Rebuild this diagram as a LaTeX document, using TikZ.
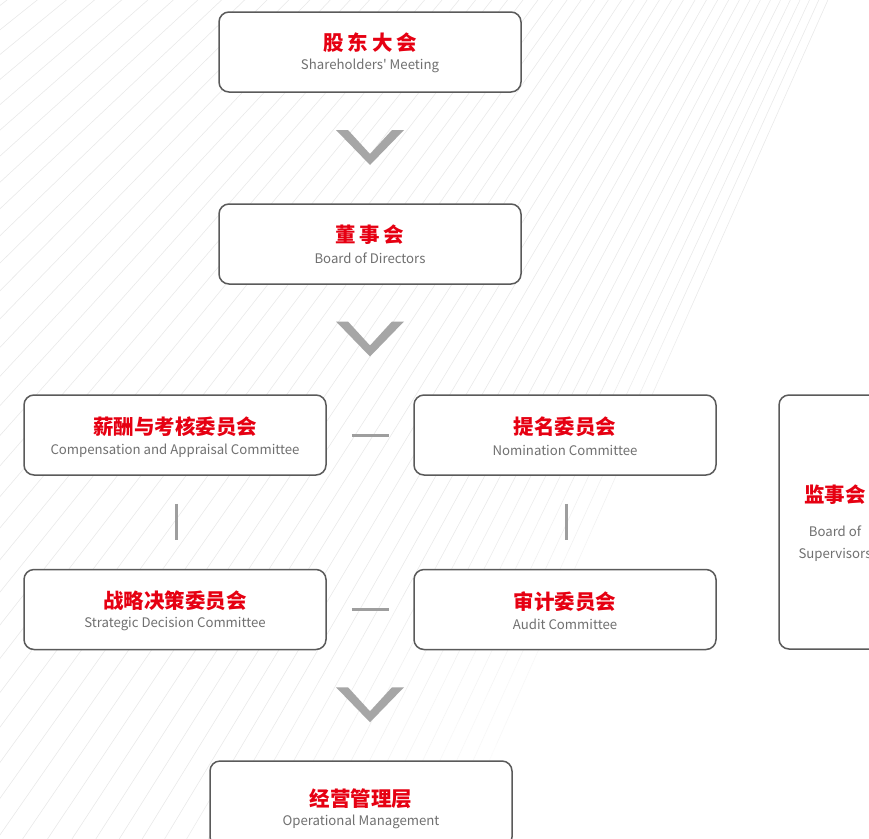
\documentclass[tikz,border=0pt]{standalone}
\usepackage{fontspec}
\setmainfont{Noto Sans CJK SC}
\usetikzlibrary{calc}
\definecolor{tred}{HTML}{E60012}
\definecolor{tgray}{HTML}{707070}
\definecolor{bord}{HTML}{5A5A5A}
\definecolor{dashc}{HTML}{9E9E9E}
\definecolor{chev}{HTML}{A6A6A6}
\tikzset{
  box/.style={draw=bord, line width=1.5pt, rounded corners=10pt, fill=white,
    minimum width=302pt, minimum height=80pt, inner sep=0pt},
  cn/.style={text=tred, font=\fontsize{20.5}{22}\selectfont\bfseries, inner sep=0pt},
  en/.style={text=tgray, font=\fontsize{13.2}{15}\selectfont, inner sep=0pt},
  link/.style={draw=dashc, line width=3pt},
  chevfill/.style={fill=chev},
  bgline/.style={line width=0.55pt},
  chevron/.pic={\fill[chevfill] (-34,-18) -- (0,17) -- (34,-18) -- (22,-18) -- (0,6) -- (-22,-18) -- cycle;}
}
\begin{document}
\begin{tikzpicture}[x=1pt,y=-1pt]
\useasboundingbox (0,0) rectangle (869,838);
\clip (0,0) rectangle (869,838);
\fill[white] (0,0) rectangle (869,838);
% background fan of faint lines
\foreach \lv/\lo/\hi in {9/-5000/1000, 7.5/1000/1060, 6/1060/1120, 4.5/1120/1180, 3/1180/1240, 1.5/1240/1300}{
  \begin{scope}
    \clip (\lo+1000,-1000) -- (\lo-2000,2000) -- (\hi-2000,2000) -- (\hi+1000,-1000) -- cycle;
    \foreach \k in {0,...,50}{
      \pgfmathsetmacro{\t}{114+0.44*\k+0.0024*\k*\k}
      \draw[bgline, draw=black!\lv] (1266,-984) -- ({1266+3200*cos(\t)},{-984+3200*sin(\t)});
    }
  \end{scope}
}
% boxes
\node[box] (b1) at (370,52) {};
\node[box] (b2) at (370,244) {};
\node[box] (b3) at (175,435) {};
\node[box] (b4) at (565,435) {};
\node[box] (b5) at (175,609.5) {};
\node[box] (b6) at (565,609.5) {};
\node[box, minimum width=112pt, minimum height=254pt] (b7) at (835,522) {};
\node[box, minimum height=86pt] (b8) at (361,804) {};
% texts
\node[cn] (t1) at ($(b1.north)+(0,31)$) {股\hspace{4pt}东\hspace{4pt}大\hspace{4pt}会};
\node[en] (e1) at ($(b1.north)+(0,55)$) {Shareholders\textquotesingle{} Meeting};
\node[cn] (t2) at ($(b2.north)+(0,31)$) {董\hspace{3.5pt}事\hspace{3.5pt}会};
\node[en] (e2) at ($(b2.north)+(0,55)$) {Board of Directors};
\node[cn] (t3) at ($(b3.north)+(0,32.5)$) {薪酬与考核委员会};
\node[en] (e3) at ($(b3.north)+(0,56.5)$) {Compensation and Appraisal Committee};
\node[cn] (t4) at ($(b4.north)+(0,32.5)$) {提名委员会};
\node[en] (e4) at ($(b4.north)+(0,56.5)$) {Nomination Committee};
\node[cn] (t5) at ($(b5.north)+(0,31.5)$) {战略决策委员会};
\node[en] (e5) at ($(b5.north)+(0,55)$) {Strategic Decision Committee};
\node[cn] (t6) at ($(b6.north)+(0,32.5)$) {审计委员会};
\node[en] (e6) at ($(b6.north)+(0,56)$) {Audit Committee};
\node[cn] (t7) at ($(b7.center)+(0,-27.5)$) {监事会};
\node[en] (e7a) at ($(b7.center)+(0,9.5)$) {Board of};
\node[en] (e7b) at ($(b7.center)+(0,32.5)$) {Supervisors};
\node[cn] (t8) at ($(b8.north)+(0,38)$) {经营管理层};
\node[en] (e8) at ($(b8.north)+(0,62)$) {Operational Management};
% chevrons
\coordinate (v1) at ($(b1.south)!0.5!(b2.north)$);
\coordinate (v2) at ($(b2.south)!0.5!(b2.south |- b3.north)$);
\coordinate (v3) at ($(b2.south |- b6.south)!0.5!(b2.south |- b8.north)$);
\pic at (v1) {chevron};
\pic at (v2) {chevron};
\pic at (v3) {chevron};
% links
\draw[link, shorten <=25pt, shorten >=24pt] (b3.east) -- (b4.west);
\draw[link, shorten <=25pt, shorten >=24pt] (b5.east) -- (b6.west);
\draw[link, shorten <=28pt, shorten >=29pt] ([xshift=1pt]b3.south) -- ([xshift=1pt]b5.north);
\draw[link, shorten <=28pt, shorten >=29pt] ([xshift=1pt]b4.south) -- ([xshift=1pt]b6.north);
\end{tikzpicture}
\end{document}
